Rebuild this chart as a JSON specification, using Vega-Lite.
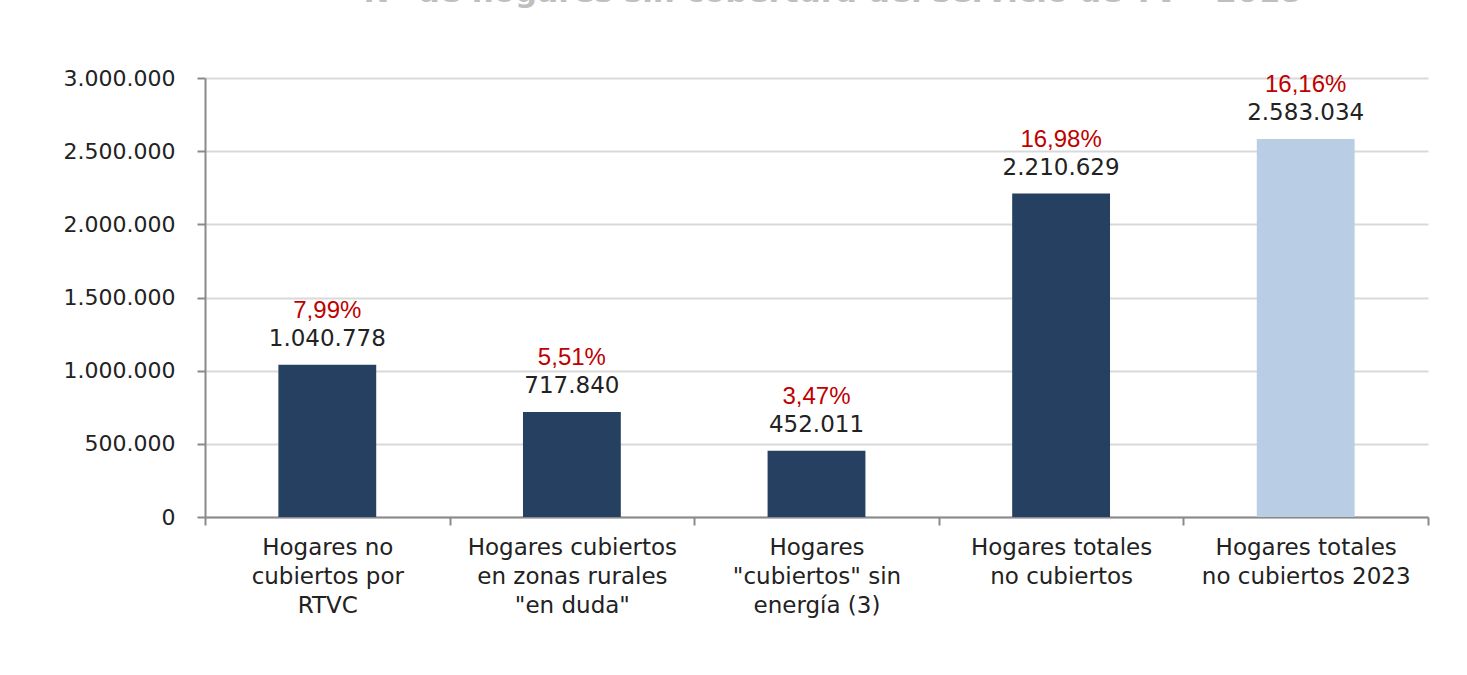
{
  "$schema": "https://vega.github.io/schema/vega-lite/v6.json",
  "width": 1223,
  "height": 439,
  "autosize": {"type": "none"},
  "padding": {"left": 205, "top": 78, "right": 39, "bottom": 158},
  "background": "white",
  "title": {
    "text": "Nº de hogares sin cobertura del servicio de TV – 2018",
    "font": "DejaVu Sans",
    "fontWeight": "bold",
    "fontSize": 31,
    "color": "#bfbfbf",
    "anchor": "middle",
    "baseline": "alphabetic",
    "offset": 34,
    "dx": 16
  },
  "config": {
    "locale": {"number": {"decimal": ",", "thousands": ".", "grouping": [3], "currency": ["", " €"]}},
    "view": {"stroke": null}
  },
  "data": {
    "values": [
      {"cat": "Hogares no|cubiertos por|RTVC", "valor": 1040778, "pct": 0.0799, "grupo": "2018"},
      {"cat": "Hogares cubiertos|en zonas rurales|\"en duda\"", "valor": 717840, "pct": 0.0551, "grupo": "2018"},
      {"cat": "Hogares|\"cubiertos\" sin|energía (3)", "valor": 452011, "pct": 0.0347, "grupo": "2018"},
      {"cat": "Hogares totales|no cubiertos", "valor": 2210629, "pct": 0.1698, "grupo": "2018"},
      {"cat": "Hogares totales|no cubiertos 2023", "valor": 2583034, "pct": 0.1616, "grupo": "2023"}
    ]
  },
  "encoding": {
    "x": {
      "field": "cat",
      "type": "nominal",
      "sort": null,
      "scale": {"paddingInner": 0, "paddingOuter": 0},
      "axis": {
        "title": null,
        "labelAngle": 0,
        "labelExpr": "split(datum.label, '|')",
        "labelLimit": 0,
        "labelFont": "DejaVu Sans",
        "labelFontSize": 23,
        "labelColor": "#222222",
        "labelLineHeight": 29,
        "labelPadding": 11,
        "labelBaseline": "top",
        "tickBand": "extent",
        "tickSize": 8,
        "tickWidth": 2,
        "tickColor": "#8a8a8a",
        "domainColor": "#8a8a8a",
        "domainWidth": 2,
        "grid": false
      }
    }
  },
  "layer": [
    {
      "mark": {"type": "bar", "width": {"band": 0.4}},
      "encoding": {
        "y": {
          "field": "valor",
          "type": "quantitative",
          "scale": {"domain": [0, 3000000], "nice": false},
          "axis": {
            "title": null,
            "values": [0, 500000, 1000000, 1500000, 2000000, 2500000, 3000000],
            "format": ",d",
            "labelFont": "DejaVu Sans",
            "labelFontSize": 22,
            "labelColor": "#222222",
            "labelPadding": 22,
            "tickSize": 8,
            "tickWidth": 2,
            "tickColor": "#8a8a8a",
            "domainColor": "#8a8a8a",
            "domainWidth": 2,
            "gridColor": "#d9d9d9",
            "gridWidth": 2
          }
        },
        "color": {
          "field": "grupo",
          "type": "nominal",
          "scale": {"domain": ["2018", "2023"], "range": ["#264061", "#b9cde5"]},
          "legend": null
        }
      }
    },
    {
      "mark": {"type": "text", "font": "DejaVu Sans", "fontSize": 23, "color": "#222222", "baseline": "alphabetic", "dy": -19},
      "encoding": {
        "y": {"field": "valor", "type": "quantitative"},
        "text": {"field": "valor", "type": "quantitative", "format": ",d"}
      }
    },
    {
      "mark": {"type": "text", "font": "Liberation Sans", "fontSize": 24, "color": "#c00000", "baseline": "alphabetic", "dy": -47},
      "encoding": {
        "y": {"field": "valor", "type": "quantitative"},
        "text": {"field": "pct", "type": "quantitative", "format": ".2%"}
      }
    }
  ]
}
